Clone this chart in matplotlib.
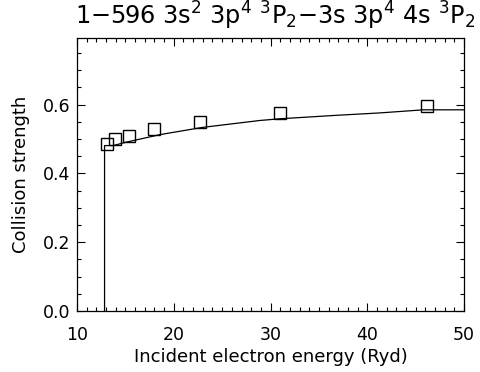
import numpy as np
import matplotlib.pyplot as plt
from matplotlib.ticker import MultipleLocator

# curve (collision strength vs incident energy)
energy = [12.85, 12.85, 13.75, 15.1, 18.6, 23.0, 28.9, 31.0, 36.8, 41.3, 45.8, 50.0]
omega = [0.0, 0.481, 0.481, 0.491, 0.513, 0.534, 0.554, 0.559, 0.569, 0.576, 0.585, 0.585]

# square points
pts_e = [13.1, 13.95, 15.4, 18.0, 22.7, 31.0, 46.2]
pts_o = [0.487, 0.499, 0.510, 0.528, 0.551, 0.577, 0.597]

title = r"1$-$596 3s$^2$ 3p$^4$ $^3$P$_2$$-$3s 3p$^4$ 4s $^3$P$_2$"

fig = plt.figure(figsize=(4.81, 3.72), dpi=100)
ax = fig.add_axes([0.160, 0.164, 0.805, 0.734])

ax.plot(energy, omega, color="black", lw=0.9)
ax.plot(pts_e, pts_o, ls="none", marker="s", ms=8, mfc="none", mec="black", mew=1.0)

ax.set_xlim(10, 50)
ax.set_ylim(0, 0.794)
ax.xaxis.set_major_locator(MultipleLocator(10))
ax.xaxis.set_minor_locator(MultipleLocator(1))
ax.yaxis.set_major_locator(MultipleLocator(0.2))
ax.yaxis.set_minor_locator(MultipleLocator(0.05))
ax.yaxis.set_major_formatter(plt.FuncFormatter(lambda v, p: "%.1f" % v))
ax.tick_params(which="both", direction="in", top=True, right=True, labelsize=12.5)
ax.tick_params(axis="y", pad=5)
ax.tick_params(axis="x", pad=11)
ax.tick_params(which="major", length=6, width=0.8)
ax.tick_params(which="minor", length=3, width=0.8)
for s in ax.spines.values():
    s.set_linewidth(0.9)

ax.set_xlabel("Incident electron energy (Ryd)", fontsize=13, labelpad=3)
ax.set_ylabel("Collision strength", fontsize=13, labelpad=9)
fig.text(0.155, 0.933, title, fontsize=17.3, ha="left", va="baseline")

fig.savefig("out.png", dpi=100)
